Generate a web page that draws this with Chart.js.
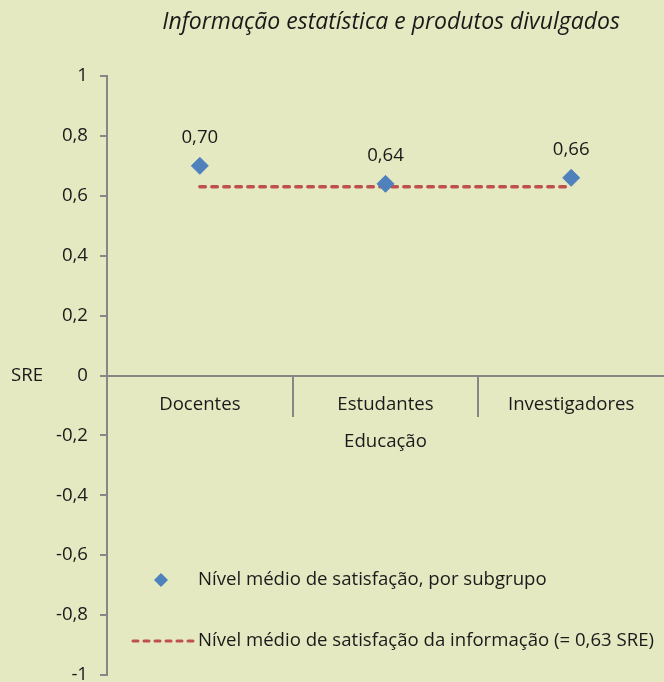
<!DOCTYPE html>
<html>
<head>
<meta charset="utf-8">
<script src="https://cdn.jsdelivr.net/npm/chart.js@4/dist/chart.umd.min.js"></script>
<style>
  html, body { margin: 0; padding: 0; background: #E4E9C1; }
  #wrap { width: 664px; height: 682px; position: relative; }
</style>
</head>
<body>
<div id="wrap"><canvas id="c" width="664" height="682"></canvas></div>
<script>
const titleText = 'Informação estatística e produtos divulgados';
const categories = ['Docentes', 'Estudantes', 'Investigadores'];
const categoryGroup = 'Educação';
const subgroupValues = [0.70, 0.64, 0.66];
const overallMean = [0.63, 0.63, 0.63];
const subgroupLabel = 'Nível médio de satisfação, por subgrupo';
const meanLabel = 'Nível médio de satisfação da informação (= 0,63 SRE)';
const yAxisLabel = 'SRE';
const yMin = -1, yMax = 1, yStep = 0.2;

const FONT = "'Open Sans', sans-serif";
const FS = 18.6;
const TEXT = '#1a1a1a';
const AXIS = '#878787';
const BLUE = '#4F81BD';
const RED = '#C0504D';

function fmt(v) {
  const r = Math.round(v * 10) / 10;
  if (Math.abs(r) < 1e-9) return '0';
  return String(r).replace('.', ',');
}

const extrasPlugin = {
  id: 'extras',
  afterDraw(chart) {
    const ctx = chart.ctx;
    const y = chart.scales.y;
    ctx.save();
    // title
    ctx.fillStyle = TEXT;
    ctx.font = "italic 23px " + FONT;
    ctx.textAlign = 'center';
    ctx.textBaseline = 'middle';
    ctx.fillText(titleText, 391, 22);
    // SRE label
    ctx.font = FS + "px " + FONT;
    ctx.textAlign = 'left';
    ctx.fillText(yAxisLabel, 11, y.getPixelForValue(0));
    // data labels
    const meta = chart.getDatasetMeta(1);
    ctx.textAlign = 'center';
    meta.data.forEach((pt, i) => {
      ctx.fillText(subgroupValues[i].toFixed(2).replace('.', ','), pt.x, pt.y - 28);
    });
    // legend
    const ly1 = 580, ly2 = 641;
    ctx.fillStyle = BLUE;
    ctx.beginPath();
    ctx.moveTo(161, ly1 - 7); ctx.lineTo(168, ly1); ctx.lineTo(161, ly1 + 7); ctx.lineTo(154, ly1);
    ctx.closePath(); ctx.fill();
    ctx.strokeStyle = RED;
    ctx.lineWidth = 3;
    ctx.lineCap = 'round';
    ctx.setLineDash([5, 6]);
    ctx.beginPath(); ctx.moveTo(133, ly2); ctx.lineTo(193, ly2); ctx.stroke();
    ctx.setLineDash([]);
    ctx.fillStyle = TEXT;
    ctx.textAlign = 'left';
    ctx.fillText(subgroupLabel, 198, ly1);
    ctx.fillText(meanLabel, 198, ly2);
    ctx.restore();
  }
};

new Chart(document.getElementById('c'), {
  type: 'line',
  data: {
    labels: categories,
    datasets: [
      {
        label: meanLabel,
        data: overallMean,
        borderColor: RED,
        borderWidth: 3.5,
        borderDash: [5.5, 6.5],
        borderCapStyle: 'round',
        pointRadius: 0,
        fill: false,
        order: 2
      },
      {
        label: subgroupLabel,
        data: subgroupValues,
        showLine: false,
        pointStyle: 'rectRot',
        pointRadius: 8.5,
        pointBackgroundColor: BLUE,
        pointBorderColor: BLUE,
        borderColor: BLUE,
        backgroundColor: BLUE,
        order: 1
      }
    ]
  },
  options: {
    responsive: false,
    animation: false,
    events: [],
    layout: { autoPadding: false, padding: { top: 76, bottom: 7, left: 0, right: 0 } },
    font: { family: FONT, size: FS },
    color: TEXT,
    plugins: {
      legend: { display: false },
      title: { display: false },
      tooltip: { enabled: false }
    },
    scales: {
      x: {
        type: 'category',
        position: { y: 0 },
        offset: true,
        grid: {
          offset: true,
          drawOnChartArea: false,
          drawTicks: true,
          tickLength: 40,
          color: (c) => (c.type === 'tick' ? AXIS : 'rgba(0,0,0,0)'),
          lineWidth: 2
        },
        border: { display: true, color: AXIS, width: 2 },
        ticks: {
          color: TEXT,
          font: { family: FONT, size: FS },
          padding: -22,
          maxRotation: 0,
          autoSkip: false
        },
        title: {
          display: true,
          text: categoryGroup,
          color: TEXT,
          font: { family: FONT, size: FS },
          padding: { top: 37, bottom: 0 }
        },
        afterFit(scale) {
          scale.paddingLeft = 0;
          scale.paddingRight = 0;
          scale.paddingTop = 0;
          scale.paddingBottom = 0;
        }
      },
      y: {
        min: yMin,
        max: yMax,
        grid: {
          drawOnChartArea: false,
          drawTicks: true,
          tickLength: 7,
          color: AXIS,
          lineWidth: 2
        },
        border: { display: true, color: AXIS, width: 2 },
        ticks: {
          stepSize: yStep,
          color: TEXT,
          font: { family: FONT, size: FS },
          padding: 12,
          callback: (v) => fmt(v)
        },
        afterFit(scale) {
          scale.width = 107;
          scale.paddingTop = 0;
          scale.paddingBottom = 0;
        }
      }
    }
  },
  plugins: [extrasPlugin]
});
</script>
</body>
</html>
